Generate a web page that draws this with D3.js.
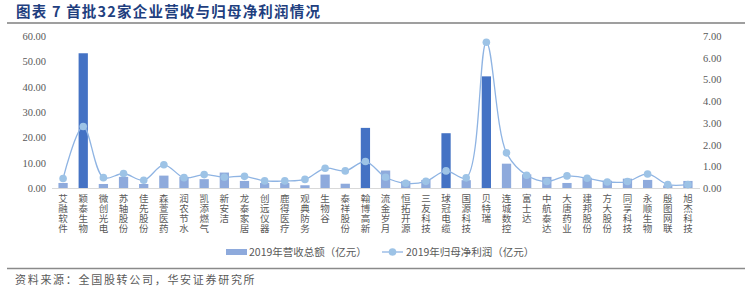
<!DOCTYPE html>
<html><head><meta charset="utf-8">
<script src="https://cdn.jsdelivr.net/npm/d3@7"></script>
<style>body{margin:0;background:#fff}svg{display:block}</style>
</head><body>
<svg id="c" width="753" height="292"></svg>
<script>
const categories = ["艾融软件","颖泰生物","微创光电","苏轴股份","佳先股份","森萱医药","润农节水","凯添燃气","新安洁","龙泰家居","创远仪器","鹿得医疗","观典防务","生物谷","泰祥股份","翰博高新","流金岁月","恒拓开源","三友科技","球冠电缆","国源科技","贝特瑞","连城数控","富士达","中航泰达","大唐药业","建邦股份","方大股份","同享科技","永顺生物","殷图网联","旭杰科技"];
const revenue = [2.1,53.2,1.7,4.5,1.7,5.0,4.5,3.6,6.2,2.9,2.1,2.1,1.2,5.4,1.8,23.8,7.0,2.8,3.3,21.7,3.2,44.1,9.7,5.5,4.5,2.1,4.2,3.0,3.8,3.3,1.1,2.9];
const profit = [0.45,2.84,0.49,0.68,0.37,1.08,0.49,0.63,0.51,0.55,0.34,0.34,0.41,0.92,0.80,1.23,0.51,0.23,0.32,0.80,0.48,6.71,1.63,0.60,0.31,0.57,0.46,0.29,0.31,0.66,0.17,0.17];
const leftTicks = [0,10,20,30,40,50,60];
const rightTicks = [0,1,2,3,4,5,6,7];
const seriesNames = ["2019年营收总额（亿元）","2019年归母净利润（亿元）"];
const title = "图表 7  首批32家企业营收与归母净利润情况";
const source = "资料来源：全国股转公司，华安证券研究所";

const svg = d3.select("#c");
const serif = "'Liberation Serif','DejaVu Serif',serif";
const cjk = "'Noto Sans CJK SC','Noto Sans',sans-serif";
const x = d3.scaleBand().domain(categories).range([53, 698]).paddingInner(0.54).paddingOuter(0.27);
const yL = d3.scaleLinear().domain([0,60]).range([188.3, 36]);
const yR = d3.scaleLinear().domain([0,7]).range([188.3, 36]);

// title
svg.append("text").attr("x",16).attr("y",17).attr("font-family",cjk).attr("font-weight","bold")
  .attr("font-size",14.5).attr("letter-spacing",1.2).attr("fill","#1f3f7f").text(title);
svg.append("line").attr("x1",7).attr("x2",745).attr("y1",23).attr("y2",23).attr("stroke","#7f7f7f").attr("stroke-width",1.5);
svg.append("line").attr("x1",7).attr("x2",745).attr("y1",268.5).attr("y2",268.5).attr("stroke","#8a8a8a").attr("stroke-width",1.5);
svg.append("text").attr("x",15).attr("y",284).attr("font-family",cjk).attr("font-size",11).attr("letter-spacing",1.7)
  .attr("fill","#595959").text(source);

// axes
const gL = svg.append("g").attr("transform","translate(46,0)")
  .call(d3.axisLeft(yL).tickValues(leftTicks).tickFormat(d3.format(".2f")).tickSize(0).tickPadding(0));
const gR = svg.append("g").attr("transform","translate(703,0)")
  .call(d3.axisRight(yR).tickValues(rightTicks).tickFormat(d3.format(".2f")).tickSize(0).tickPadding(0));
[gL,gR].forEach(g=>{g.select(".domain").remove();
  g.selectAll("text").attr("font-family",serif).attr("font-size",10.5).attr("fill","#595959");});

// bars
svg.append("g").selectAll("rect").data(revenue).join("rect")
  .attr("x",(d,i)=>x(categories[i])).attr("width",x.bandwidth())
  .attr("y",d=>yL(d)).attr("height",d=>yL(0)-yL(d))
  .attr("fill",d=>d>20?"#4472c4":"#8eaadc");

// baseline
svg.append("line").attr("x1",52).attr("x2",700).attr("y1",188.5).attr("y2",188.5).attr("stroke","#d9d9d9").attr("stroke-width",1);

// line
const cx = i => x(categories[i]) + x.bandwidth()/2;
svg.append("path").datum(profit)
  .attr("d", d3.line().x((d,i)=>cx(i)).y(d=>yR(d)).curve(d3.curveCatmullRom.alpha(0.5)))
  .attr("fill","none").attr("stroke","#8fb4e3").attr("stroke-width",1.3);
svg.append("g").selectAll("circle").data(profit).join("circle")
  .attr("cx",(d,i)=>cx(i)).attr("cy",d=>yR(d)).attr("r",3.8).attr("fill","#9dc3e6");

// category labels, vertical writing
svg.append("g").selectAll("text").data(categories).join("text")
  .attr("x",(d,i)=>cx(i)).attr("y",194)
  .attr("writing-mode","vertical-rl").attr("style","writing-mode:vertical-rl")
  .attr("font-family",cjk).attr("font-size",9.5).attr("letter-spacing",0.5)
  .attr("fill","#595959").text(d=>d);

// legend
svg.append("rect").attr("x",226).attr("y",249).attr("width",21).attr("height",6).attr("fill","#8eaadc");
svg.append("text").attr("x",249).attr("y",256).attr("font-family",cjk).attr("font-size",10.5).attr("fill","#595959").text(seriesNames[0]);
svg.append("line").attr("x1",382).attr("x2",403).attr("y1",252).attr("y2",252).attr("stroke","#8fb4e3").attr("stroke-width",1.3);
svg.append("circle").attr("cx",392.5).attr("cy",252).attr("r",3.8).attr("fill","#9dc3e6");
svg.append("text").attr("x",406).attr("y",256).attr("font-family",cjk).attr("font-size",10.5).attr("fill","#595959").text(seriesNames[1]);
</script>
</body></html>
